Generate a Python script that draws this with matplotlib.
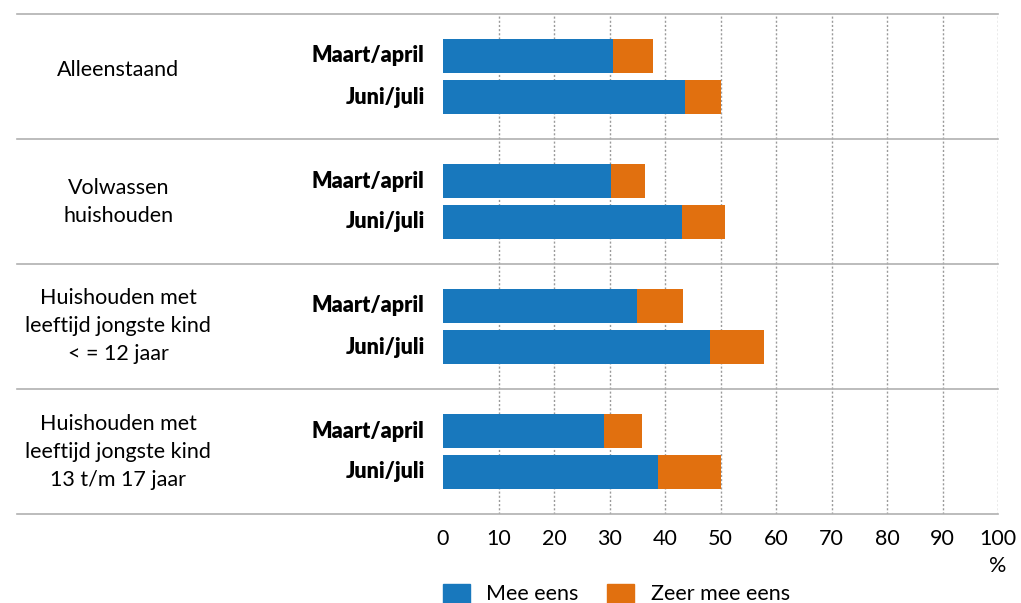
import numpy as np
import matplotlib.pyplot as plt

groups = ["Alleenstaand", "Volwassen\nhuishouden",
          "Huishouden met\nleeftijd jongste kind\n< = 12 jaar",
          "Huishouden met\nleeftijd jongste kind\n13 t/m 17 jaar"]
periods = ["Maart/april", "Juni/juli"]

# per group: [maart/april, juni/juli]
mee_eens = [[30.6, 43.6], [30.2, 43.1], [35.0, 48.1], [29.0, 38.8]]
zeer_mee_eens = [[7.3, 6.5], [6.2, 7.8], [8.3, 9.7], [6.9, 11.2]]

blue = "#1878bd"
orange = "#e1700f"
grey = "#b0b0b0"

plt.rcParams['font.family'] = ['Lato', 'DejaVu Sans']
fs = 15.5

fig = plt.figure(figsize=(10.21, 6.03), dpi=100)
ax = fig.add_axes([443 / 1021, 1 - 514 / 603, 555 / 1021, 500 / 603])

offsets = [0.336, 0.664]
bar_h = 0.272
for g in range(len(groups)):
    for p in range(2):
        y = g + offsets[p]
        ax.barh(y, mee_eens[g][p], height=bar_h, color=blue, zorder=3)
        ax.barh(y, zeer_mee_eens[g][p], left=mee_eens[g][p], height=bar_h,
                color=orange, zorder=3)
        ax.text(-0.033, y, periods[p], transform=ax.get_yaxis_transform(),
                ha="right", va="center", fontsize=fs, fontweight="heavy")
    dy = -0.05 if g == 0 else 0
    ax.text(-0.585, g + 0.5 + dy, groups[g], transform=ax.get_yaxis_transform(),
            ha="center", va="center", fontsize=fs, linespacing=1.5)

for y in range(len(groups) + 1):
    ax.axhline(y, xmin=-0.768, xmax=1, color=grey, lw=1.2, clip_on=False, zorder=2)

for x in range(10, 101, 10):
    ax.axvline(x, color="#9a9a9a", lw=1, ls=(0, (1.5, 1.5)), zorder=1)

ax.set_xlim(0, 100)
ax.set_ylim(len(groups), 0)
ax.set_xticks(range(0, 101, 10))
ax.tick_params(axis="x", length=0, labelsize=fs, pad=11)
ax.set_yticks([])
for s in ax.spines.values():
    s.set_visible(False)

ax.text(1.0, -0.083, "%", transform=ax.transAxes, ha="center", va="top", fontsize=fs)

# legend
fig.patches.append(plt.Rectangle((443 / 1021, 0), 27 / 1021, 19 / 603,
                                 transform=fig.transFigure, color=blue))
fig.text(486 / 1021, 1 - 594 / 603, "Mee eens", ha="left", va="center", fontsize=fs)
fig.patches.append(plt.Rectangle((607 / 1021, 0), 27 / 1021, 19 / 603,
                                 transform=fig.transFigure, color=orange))
fig.text(651 / 1021, 1 - 594 / 603, "Zeer mee eens", ha="left", va="center", fontsize=fs)

fig.savefig("out.png", dpi=100)
